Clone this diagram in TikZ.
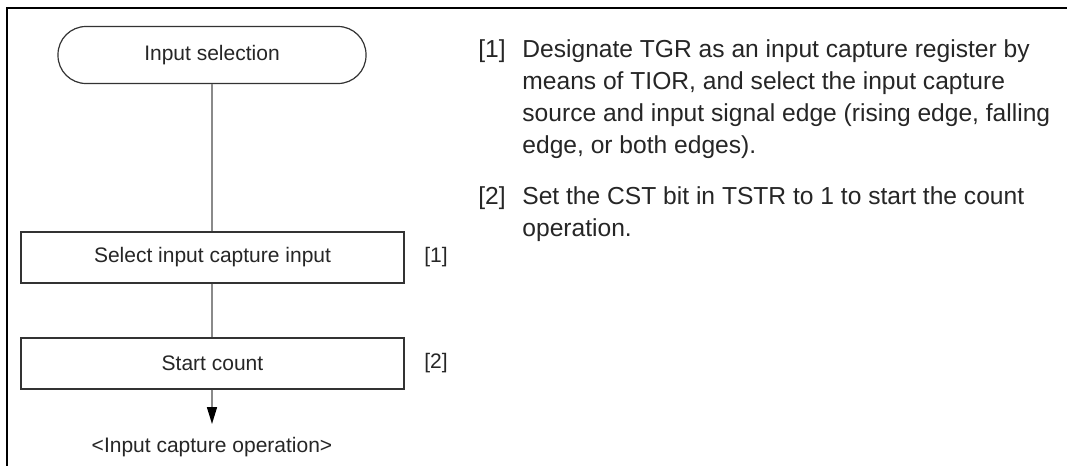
\documentclass[tikz,border=0pt]{standalone}
\usepackage{fontspec}
\setmainfont{Liberation Sans}
\usepackage{tikz}
\usetikzlibrary{arrows.meta}
\definecolor{FCLine}{HTML}{333333}
\definecolor{FCConn}{HTML}{8A8A8A}
\definecolor{FCText}{HTML}{262626}

\begin{document}
\begin{tikzpicture}[x=0.5pt,y=-0.5pt,
  every node/.style={font=\fontsize{10.5}{12}\selectfont,text=FCText},
  termbox/.style={draw=FCLine,line width=0.6pt,rounded corners=14pt,minimum width=154pt,minimum height=28.5pt,inner sep=0pt},
  stepbox/.style={draw=FCLine,line width=0.6pt,minimum width=191.5pt,minimum height=25.5pt,inner sep=0pt},
  note/.style={anchor=north west,inner sep=0pt,align=left,font=\fontsize{12.3}{16}\selectfont},
  conn/.style={draw=FCConn,line width=0.8pt}]
\path[use as bounding box] (0,0) rectangle (1067,466);
\fill[white] (0,0) rectangle (1067,466);
\draw[black,line width=1.3pt] (1067,8) -- (7,8) -- (7,466);
% flow
\node[termbox] (sel) at (212,55) {Input selection};
\node[stepbox] (capin) at (212.5,257.5) {Select input capture input};
\node[stepbox] (cnt) at (212.5,363.5) {Start count};
\node (lbla) at (436,257) {[1]};
\node (lblb) at (436,363) {[2]};
\node (oper) at (212,447) {<Input capture operation>};
\coordinate (tip) at (212,424);
\draw[conn] (sel) -- (capin.north -| sel);
\draw[conn] (capin.south -| sel) -- (cnt.north -| sel);
\draw[conn,-{Triangle[length=8.5pt,width=5pt,color=black]}] (cnt.south -| sel) -- (tip);
% notes
\node[note] (numa) at (478,39) {[1]};
\node[note] (txta) at (522,39) {Designate TGR as an input capture register by\\
  means of TIOR, and select the input capture\\
  source and input signal edge (rising edge, falling\\
  edge, or both edges).};
\node[note] (numb) at (478,186) {[2]};
\node[note] (txtb) at (522,186) {Set the CST bit in TSTR to 1 to start the count\\
  operation.};
\end{tikzpicture}
\end{document}
